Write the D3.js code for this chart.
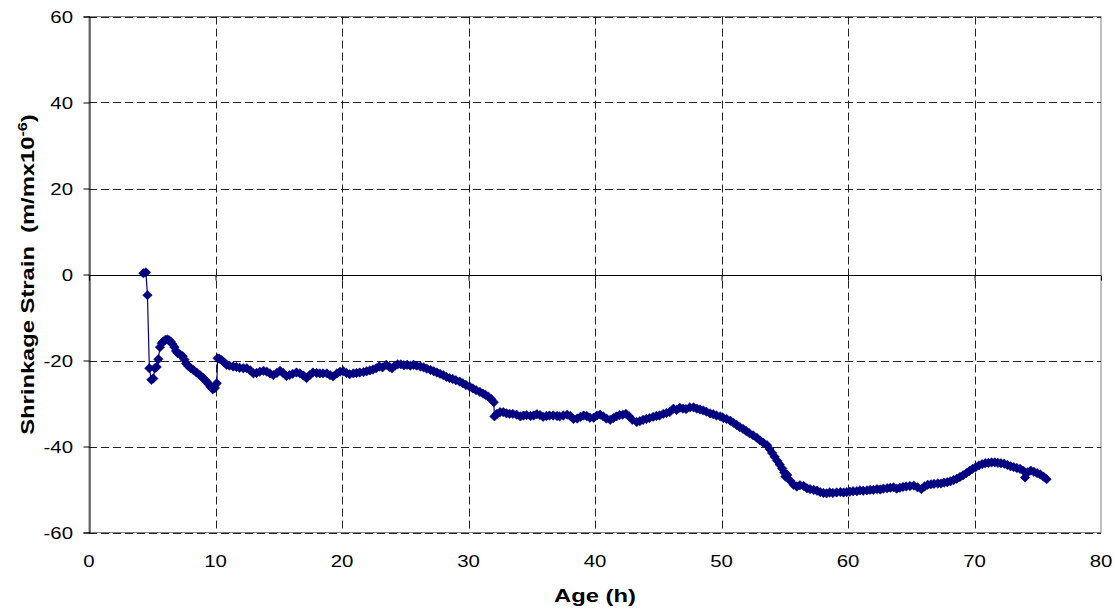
<!DOCTYPE html>
<html><head><meta charset="utf-8">
<script src="https://cdn.jsdelivr.net/npm/d3@7"></script>
<style>body{margin:0;background:#fff;} svg{display:block;font-family:"Liberation Sans",Arial,sans-serif;}</style>
</head><body>
<svg id="c" width="1115" height="611"></svg>
<script>
const xTicks = [0,10,20,30,40,50,60,70,80];
const yTicks = [60,40,20,0,-20,-40,-60];
const xTitle = "Age (h)";
const yTitle = "Shrinkage Strain  (m/mx10";
const yTitleSup = "-6";
// [age (h), strain (m/m x10^-6)]
const series = [
[4.3,0.3],[4.5,0.5],[4.62,-4.8],[4.77,-21.8],[4.93,-24.5],[5.08,-24.2],[5.2,-21.8],[5.35,-21.5],[5.48,-19.7],[5.61,-16.9],
[5.75,-16.0],[5.87,-15.6],[6.03,-15.2],[6.19,-15.1],[6.33,-15.3],[6.46,-15.6],[6.6,-16.2],[6.75,-16.9],[6.88,-17.8],[7.01,-18.3],
[7.2,-18.6],[7.41,-19.0],[7.55,-19.8],[7.67,-20.7],[7.85,-21.3],[8.05,-21.8],[8.25,-22.2],[8.5,-22.8],[8.77,-23.4],[9.0,-24.0],
[9.15,-24.5],[9.3,-24.9],[9.45,-25.5],[9.6,-26.1],[9.78,-26.7],[9.95,-26.4],[10.1,-25.3],[10.17,-19.5],[10.3,-19.6],[10.49,-19.9],
[10.7,-20.5],[10.88,-21.0],[11.1,-21.2],[11.4,-21.4],[11.65,-21.5],[11.9,-21.7],[12.2,-21.8],[12.47,-21.8],[12.75,-22.3],[13.0,-23.0],
[13.25,-22.9],[13.5,-22.6],[13.8,-22.4],[14.05,-22.6],[14.3,-23.0],[14.57,-23.4],[14.85,-22.9],[15.1,-22.4],[15.35,-22.9],[15.6,-23.6],
[15.85,-23.4],[16.1,-23.1],[16.4,-22.8],[16.68,-23.0],[16.95,-23.5],[17.2,-24.1],[17.45,-23.4],[17.7,-22.8],[18.0,-22.9],[18.25,-23.0],
[18.5,-23.0],[18.8,-23.0],[19.05,-23.4],[19.3,-23.7],[19.6,-23.0],[19.85,-22.6],[20.1,-22.5],[20.35,-22.9],[20.6,-23.2],[20.9,-23.0],
[21.15,-22.9],[21.4,-22.8],[21.7,-22.7],[21.95,-22.5],[22.2,-22.3],[22.45,-22.1],[22.7,-21.8],[22.95,-21.4],[23.2,-21.6],[23.5,-21.0],
[23.75,-21.5],[23.95,-21.8],[24.2,-21.2],[24.4,-20.9],[24.65,-20.9],[24.9,-21.1],[25.15,-21.0],[25.4,-21.2],[25.65,-21.0],[25.9,-21.2],
[26.2,-21.4],[26.45,-21.6],[26.7,-21.9],[27.0,-22.2],[27.25,-22.5],[27.5,-22.8],[27.75,-23.1],[28.0,-23.4],[28.25,-23.8],[28.5,-24.1],
[28.75,-24.3],[29.0,-24.6],[29.3,-24.9],[29.55,-25.3],[29.8,-25.7],[30.1,-26.1],[30.35,-26.5],[30.6,-26.9],[30.9,-27.3],[31.15,-27.7],
[31.35,-28.0],[31.57,-28.4],[31.8,-29.0],[32.0,-29.7],[32.05,-33.0],[32.25,-32.4],[32.5,-32.0],[32.75,-32.0],[33.0,-32.3],[33.25,-32.4],
[33.5,-32.4],[33.8,-32.6],[34.1,-33.0],[34.35,-32.8],[34.6,-32.7],[34.9,-32.9],[35.15,-32.8],[35.4,-32.5],[35.65,-32.7],[35.9,-33.1],
[36.15,-32.9],[36.4,-32.8],[36.7,-32.8],[37.0,-32.9],[37.2,-33.0],[37.5,-32.8],[37.8,-32.6],[38.05,-32.9],[38.3,-33.6],[38.6,-33.5],
[38.85,-33.1],[39.1,-32.8],[39.35,-32.9],[39.6,-33.3],[39.9,-33.3],[40.15,-32.8],[40.4,-32.6],[40.65,-33.0],[40.9,-33.5],[41.2,-33.8],
[41.45,-33.4],[41.7,-33.0],[41.95,-32.7],[42.2,-32.6],[42.45,-32.4],[42.7,-33.0],[42.95,-33.8],[43.3,-34.3],[43.55,-34.1],[43.8,-33.8],
[44.05,-33.6],[44.3,-33.4],[44.6,-33.1],[44.85,-32.9],[45.1,-32.8],[45.4,-32.4],[45.65,-32.2],[45.9,-32.0],[46.2,-31.2],[46.45,-31.5],
[46.7,-31.0],[46.95,-31.2],[47.2,-31.3],[47.5,-30.9],[47.8,-30.9],[48.05,-31.2],[48.3,-31.4],[48.55,-31.6],[48.8,-31.9],[49.1,-32.3],
[49.35,-32.5],[49.6,-32.8],[49.9,-33.0],[50.15,-33.4],[50.4,-33.6],[50.7,-34.0],[50.95,-34.5],[51.2,-35.0],[51.45,-35.5],[51.7,-35.9],
[51.95,-36.4],[52.2,-36.9],[52.5,-37.4],[52.8,-38.0],[53.05,-38.6],[53.3,-39.1],[53.6,-39.7],[53.8,-40.6],[54.0,-41.5],[54.2,-42.4],
[54.4,-43.3],[54.6,-44.2],[54.8,-45.1],[54.95,-46.0],[55.05,-47.0],[55.2,-46.6],[55.45,-48.0],[55.7,-48.9],[55.95,-49.3],[56.2,-49.0],
[56.5,-49.2],[56.75,-49.7],[57.0,-49.9],[57.3,-50.1],[57.55,-50.3],[57.8,-50.6],[58.05,-50.8],[58.3,-50.9],[58.55,-50.7],[58.8,-50.8],
[59.1,-50.7],[59.4,-50.6],[59.65,-50.7],[59.9,-50.6],[60.15,-50.5],[60.4,-50.4],[60.7,-50.4],[60.95,-50.2],[61.2,-50.3],[61.5,-50.2],
[61.75,-50.1],[62.0,-50.1],[62.3,-49.9],[62.55,-50.0],[62.8,-49.8],[63.1,-49.7],[63.35,-49.6],[63.6,-49.5],[63.85,-49.8],[64.1,-49.6],
[64.35,-49.4],[64.6,-49.3],[64.9,-49.2],[65.2,-49.1],[65.5,-49.5],[65.8,-49.9],[66.05,-49.3],[66.3,-48.9],[66.55,-48.8],[66.8,-48.7],
[67.1,-48.6],[67.35,-48.6],[67.6,-48.4],[67.85,-48.3],[68.1,-48.1],[68.35,-47.8],[68.6,-47.5],[68.85,-47.1],[69.1,-46.7],[69.35,-46.2],
[69.6,-45.7],[69.85,-45.2],[70.1,-44.8],[70.35,-44.4],[70.6,-44.1],[70.85,-43.9],[71.1,-43.8],[71.35,-43.7],[71.6,-43.7],[71.85,-43.8],
[72.1,-43.9],[72.35,-44.0],[72.6,-44.3],[72.85,-44.6],[73.1,-44.8],[73.35,-45.0],[73.6,-45.2],[73.85,-45.6],[74.0,-47.2],[74.2,-46.0],
[74.45,-45.6],[74.7,-45.9],[74.95,-46.2],[75.2,-46.5],[75.45,-47.0],[75.7,-47.6]
];

const svg = d3.select("#c");
const L = 89, R = 1101, T = 16.5, B = 532.5;
const x = d3.scaleLinear().domain([0,80]).range([L,R]);
const y = d3.scaleLinear().domain([-60,60]).range([B,T]);
const STRETCH = 1.2, TSTRETCH = 1.25;

// plot border (grey)
svg.append("rect").attr("x",L).attr("y",T).attr("width",R-L).attr("height",B-T)
  .attr("fill","none").attr("stroke","#808080").attr("stroke-width",1);

// gridlines
const g = svg.append("g");
g.selectAll(".hg").data(yTicks.filter(d=>d!==0)).join("line")
  .attr("x1",L).attr("x2",R).attr("y1",d=>Math.round(y(d))+0.5).attr("y2",d=>Math.round(y(d))+0.5)
  .attr("stroke","#222").attr("stroke-dasharray","8,4");
g.selectAll(".vg").data(xTicks.filter(d=>d!==0 && d!==80)).join("line")
  .attr("y1",T).attr("y2",B).attr("x1",d=>Math.round(x(d))+0.5).attr("x2",d=>Math.round(x(d))+0.5)
  .attr("stroke","#222").attr("stroke-dasharray","8,4");

// zero line (x axis) and y axis
const y0 = Math.round(y(0))+0.5;
svg.append("line").attr("x1",L).attr("x2",R).attr("y1",y0).attr("y2",y0).attr("stroke","#000");
const xAxisTicks = svg.append("g").attr("transform",`translate(0,${y0})`)
  .call(d3.axisBottom(x).tickValues(xTicks).tickSize(5).tickFormat(""));
xAxisTicks.select(".domain").remove();
xAxisTicks.selectAll("line").attr("stroke","#000");

const yAxis = svg.append("g").attr("transform",`translate(${Math.round(L)+0.5},0)`)
  .call(d3.axisLeft(y).tickValues(yTicks).tickSize(6).tickFormat(""));
yAxis.select(".domain").attr("stroke","#000");
yAxis.selectAll("line").attr("stroke","#000");

// y tick labels (stretched horizontally like the reference)
svg.append("g").selectAll("text").data(yTicks).join("text")
  .attr("transform",d=>`translate(73,${y(d)+6}) scale(${STRETCH},1)`)
  .attr("text-anchor","end").attr("font-size","17px").attr("fill","#000")
  .text(d=>String(d));

// x tick labels at bottom
svg.append("g").selectAll("text").data(xTicks).join("text")
  .attr("transform",d=>`translate(${x(d)},567) scale(${STRETCH},1)`)
  .attr("text-anchor","middle").attr("font-size","17px").text(d=>String(d));

// axis titles
svg.append("text").attr("transform",`translate(${(L+R)/2},602) scale(${TSTRETCH},1)`)
  .attr("text-anchor","middle").attr("font-size","19px").attr("font-weight","bold").text(xTitle);
const yt = svg.append("text").attr("transform",`translate(34,${(T+B)/2}) rotate(-90) scale(${TSTRETCH},1)`)
  .attr("text-anchor","middle").attr("font-size","19px").attr("font-weight","bold")
  .style("white-space","pre");
yt.append("tspan").style("white-space","pre").text(yTitle);
yt.append("tspan").attr("dy","-7").attr("font-size","13px").text(yTitleSup);
yt.append("tspan").attr("dy","7").text(")");

// series
const line = d3.line().x(d=>x(d[0])).y(d=>y(d[1]));
svg.append("path").datum(series).attr("d",line).attr("fill","none")
  .attr("stroke","#000080").attr("stroke-width",1.2);
const sym = d3.symbol().type(d3.symbolSquare).size(44);
svg.append("g").selectAll("path").data(series).join("path")
  .attr("transform",d=>`translate(${x(d[0])},${y(d[1])}) rotate(45)`)
  .attr("d",sym).attr("fill","#000080").attr("stroke","#000080").attr("stroke-width",0.6);
</script>
</body></html>
